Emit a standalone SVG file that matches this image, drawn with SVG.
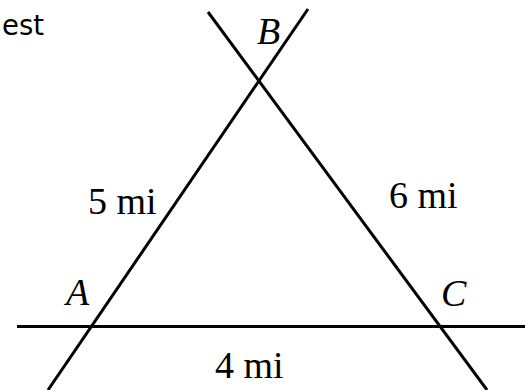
<svg xmlns="http://www.w3.org/2000/svg" width="531" height="390" viewBox="0 0 531 390">
<style>
.ln{stroke:#000;stroke-width:3;fill:none;stroke-linecap:butt}
.lbl{font-family:"Liberation Serif","Times New Roman",serif;font-size:38px;fill:#000}
.it{font-style:italic}
.hd{font-family:"DejaVu Sans","Comic Sans MS",sans-serif;font-size:29px;fill:#000}
</style>
<rect width="531" height="390" fill="#fff"/>
<text class="hd" x="2" y="35" textLength="42" lengthAdjust="spacingAndGlyphs">est</text>
<g id="connectors">
<line class="ln" x1="48" y1="390" x2="308" y2="9"/>
<line class="ln" x1="208" y1="12" x2="487" y2="390"/>
<line class="ln" x1="17" y1="326.5" x2="525" y2="326.5"/>
</g>
<g id="B"><text class="lbl it" x="257" y="44">B</text></g>
<g id="A"><text class="lbl it" x="66" y="305">A</text></g>
<g id="C"><text class="lbl it" x="441" y="306">C</text></g>
<g id="AB"><text class="lbl" x="88" y="214">5 mi</text></g>
<g id="BC"><text class="lbl" x="389" y="208">6 mi</text></g>
<g id="AC"><text class="lbl" x="215" y="378">4 mi</text></g>
</svg>
